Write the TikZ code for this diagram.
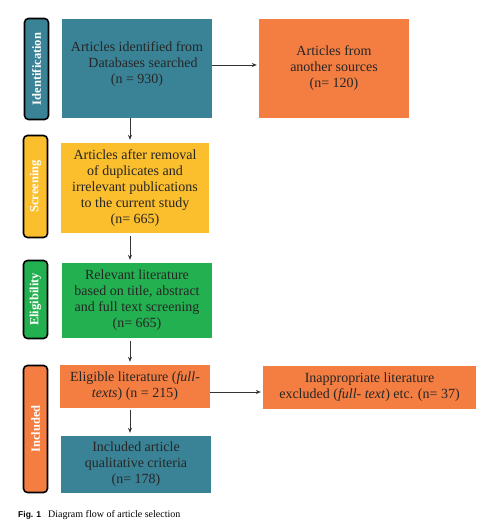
\documentclass[tikz,border=0pt]{standalone}
\usepackage{fontspec}
\setmainfont{Liberation Serif}
\newfontfamily\capsans{Liberation Sans}
\usepackage{xcolor}
\usetikzlibrary{arrows.meta}

\definecolor{stageteal}{RGB}{58,131,151}
\definecolor{stageorange}{RGB}{244,126,66}
\definecolor{stageyellow}{RGB}{251,190,45}
\definecolor{stagegreen}{RGB}{35,176,80}

\tikzset{
  stagebox/.style={draw=none, align=center, inner sep=2pt, text=black!85,
    font=\fontsize{14}{16}\selectfont},
  tagbox/.style={draw=black, line width=1.6pt, rounded corners=4pt,
    minimum width=24pt, text=white, rotate=90,
    font=\fontsize{12.5}{14}\selectfont\bfseries},
  flow/.style={-{Stealth[length=5pt,width=4pt]}, line width=0.6pt, black!80},
}

\begin{document}
\begin{tikzpicture}[x=1pt, y=-1pt]
  \useasboundingbox (0,0) rectangle (492,527);
  \coordinate (col) at (130,0);

  % stage tags
  \node[tagbox, fill=stageteal, minimum width=101pt, minimum height=24pt] (tagid) at (36.5,69) {Identification};
  \node[tagbox, fill=stageyellow, minimum width=102pt, minimum height=24pt] (tagscr) at (35.5,186.5) {Screening};
  \node[tagbox, fill=stagegreen, minimum width=78pt, minimum height=24pt] (tagelig) at (35.5,299.5) {Eligibility};
  \node[tagbox, fill=stageorange, minimum width=127pt, minimum height=24pt] (taginc) at (35.5,429) {Included};

  % boxes
  \node[stagebox, fill=stageteal, minimum width=150pt, minimum height=99pt] (ident) at (137,68.5) {};
  \node[stagebox, anchor=center] (identtxt) at (137,64)
    {Articles identified from\\\hspace*{12pt}Databases searched\\(n = 930)};
  \node[stagebox, fill=stageorange, minimum width=150pt, minimum height=99pt] (other) at (334,68.5)
    {Articles from\\another sources\\(n= 120)};
  \node[stagebox, fill=stageyellow, minimum width=148pt, minimum height=90pt] (screen) at (135,188)
    {Articles after removal\\of duplicates and\\irrelevant publications\\to the current study\\(n= 665)};
  \node[stagebox, fill=stagegreen, minimum width=150pt, minimum height=75pt] (elig) at (137,300.5)
    {Relevant literature\\based on title, abstract\\and full text screening\\(n= 665)};
  \node[stagebox, fill=stageorange, minimum width=150pt, minimum height=43pt] (eligfull) at (135,386.5)
    {Eligible literature (\textit{full-}\\\textit{texts}) (n = 215)};
  \node[stagebox, fill=stageorange, minimum width=213pt, minimum height=43pt] (excl) at (369.5,387.5)
    {Inappropriate literature\\excluded (\textit{full- text}) etc. (n= 37)};
  \node[stagebox, fill=stageteal, minimum width=150pt, minimum height=57pt] (incl) at (136,464.5)
    {Included article\\qualitative criteria\\(n= 178)};

  % connectors
  \draw[flow, shorten >=2pt] (ident.east |- 0,65) -- (other.west |- 0,65);
  \draw[flow, shorten >=2pt] (eligfull.east |- 0,392) -- (excl.west |- 0,392);
  \draw[flow, shorten >=3pt] (ident.south -| col) -- (screen.north -| col);
  \draw[flow, shorten <=3pt, shorten >=3pt] (screen.south -| col) -- (elig.north -| col);
  \draw[flow, shorten <=3pt, shorten >=3pt] (elig.south -| col) -- (eligfull.north -| col);
  \draw[flow, shorten <=2pt, shorten >=3pt] (eligfull.south -| col) -- (incl.north -| col);

  % caption
  \node[anchor=west, inner sep=0pt, font=\fontsize{10}{12}\selectfont] (cap) at (18,515)
    {{\capsans\bfseries\fontsize{8.5}{10}\selectfont Fig. 1}\hspace{7pt}Diagram flow of article selection};
\end{tikzpicture}
\end{document}
